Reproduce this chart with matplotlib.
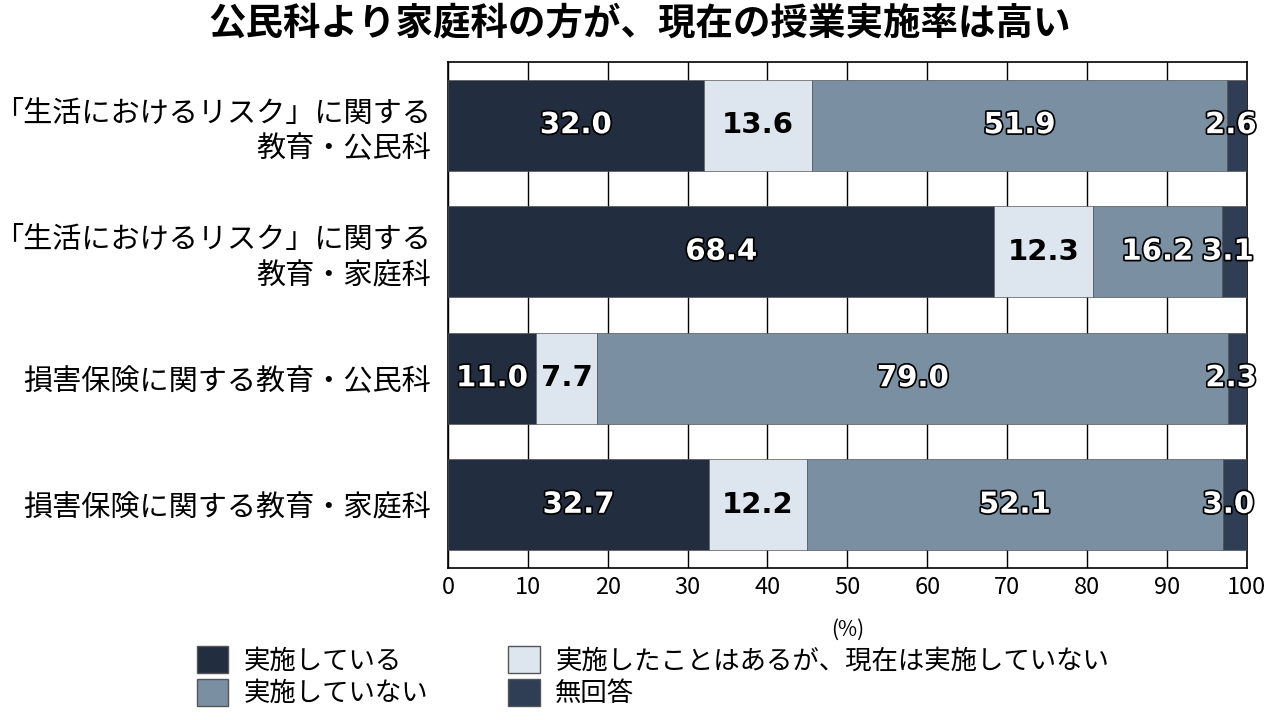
import matplotlib.pyplot as plt
import matplotlib.patheffects as pe
from matplotlib.patches import Patch

plt.rcParams['font.family'] = 'Noto Sans CJK JP'

categories = ['「生活におけるリスク」に関する\n教育・公民科',
              '「生活におけるリスク」に関する\n教育・家庭科',
              '損害保険に関する教育・公民科',
              '損害保険に関する教育・家庭科']
jisshi = [32.0, 68.4, 11.0, 32.7]
katsute = [13.6, 12.3, 7.7, 12.2]
shitenai = [51.9, 16.2, 79.0, 52.1]
mukaito = [2.6, 3.1, 2.3, 3.0]
series_names = ['実施している', '実施したことはあるが、現在は実施していない', '実施していない', '無回答']
colors = ['#222d3f', '#dde6ef', '#7b8fa3', '#2f3d55']
text_colors = ['white', 'black', 'white', 'white']

fig = plt.figure(figsize=(12.8, 7.2), dpi=100)
ax = fig.add_axes([0.35, 0.211, 0.624, 0.703])

ypos = list(range(len(categories)))
left = [0.0] * len(categories)
for vals, col, tc in zip([jisshi, katsute, shitenai, mukaito], colors, text_colors):
    ax.barh(ypos, vals, left=left, color=col, height=0.72, zorder=3,
            edgecolor='#555555', linewidth=0.5)
    for y, v, l in zip(ypos, vals, left):
        x = l + v / 2
        if v < 4:
            x = l + v / 2 - 0.8
        t = ax.text(x, y, f'{v:.1f}', ha='center', va='center', color=tc,
                    fontsize=21, fontweight='bold', fontfamily='DejaVu Sans', zorder=5)
        if tc == 'white':
            t.set_path_effects([pe.withStroke(linewidth=2.5, foreground='black')])
    left = [a + b for a, b in zip(left, vals)]

ax.set_xlim(0, 100)
ax.set_ylim(3.5, -0.5)
ax.set_xticks(range(0, 101, 10))
ax.set_yticks(ypos)
ax.set_yticklabels(categories, fontsize=21, linespacing=1.25)
ax.tick_params(axis='x', labelsize=17, length=0, pad=6)
ax.tick_params(axis='y', length=0, pad=12)
for lab in ax.get_yticklabels():
    lab.set_horizontalalignment('right')
ax.grid(axis='x', color='black', linewidth=1, zorder=1)
for s in ax.spines.values():
    s.set_color('black')
    s.set_linewidth(1.2)
ax.text(50, 3.9, '(%)', ha='center', va='top', fontsize=15)

fig.suptitle('公民科より家庭科の方が、現在の授業実施率は高い', fontsize=27,
             fontweight='bold', y=0.995)

handles = [Patch(facecolor=colors[i], edgecolor='#555555') for i in [0, 2, 1, 3]]
labels = [series_names[i] for i in [0, 2, 1, 3]]
fig.legend(handles, labels, ncol=2, loc='lower left', bbox_to_anchor=(0.135, -0.015),
           frameon=False, fontsize=19, handlelength=1.2, handleheight=1.2,
           columnspacing=3.0, labelspacing=0.15, handletextpad=0.6)

fig.savefig('out.png', dpi=100)
